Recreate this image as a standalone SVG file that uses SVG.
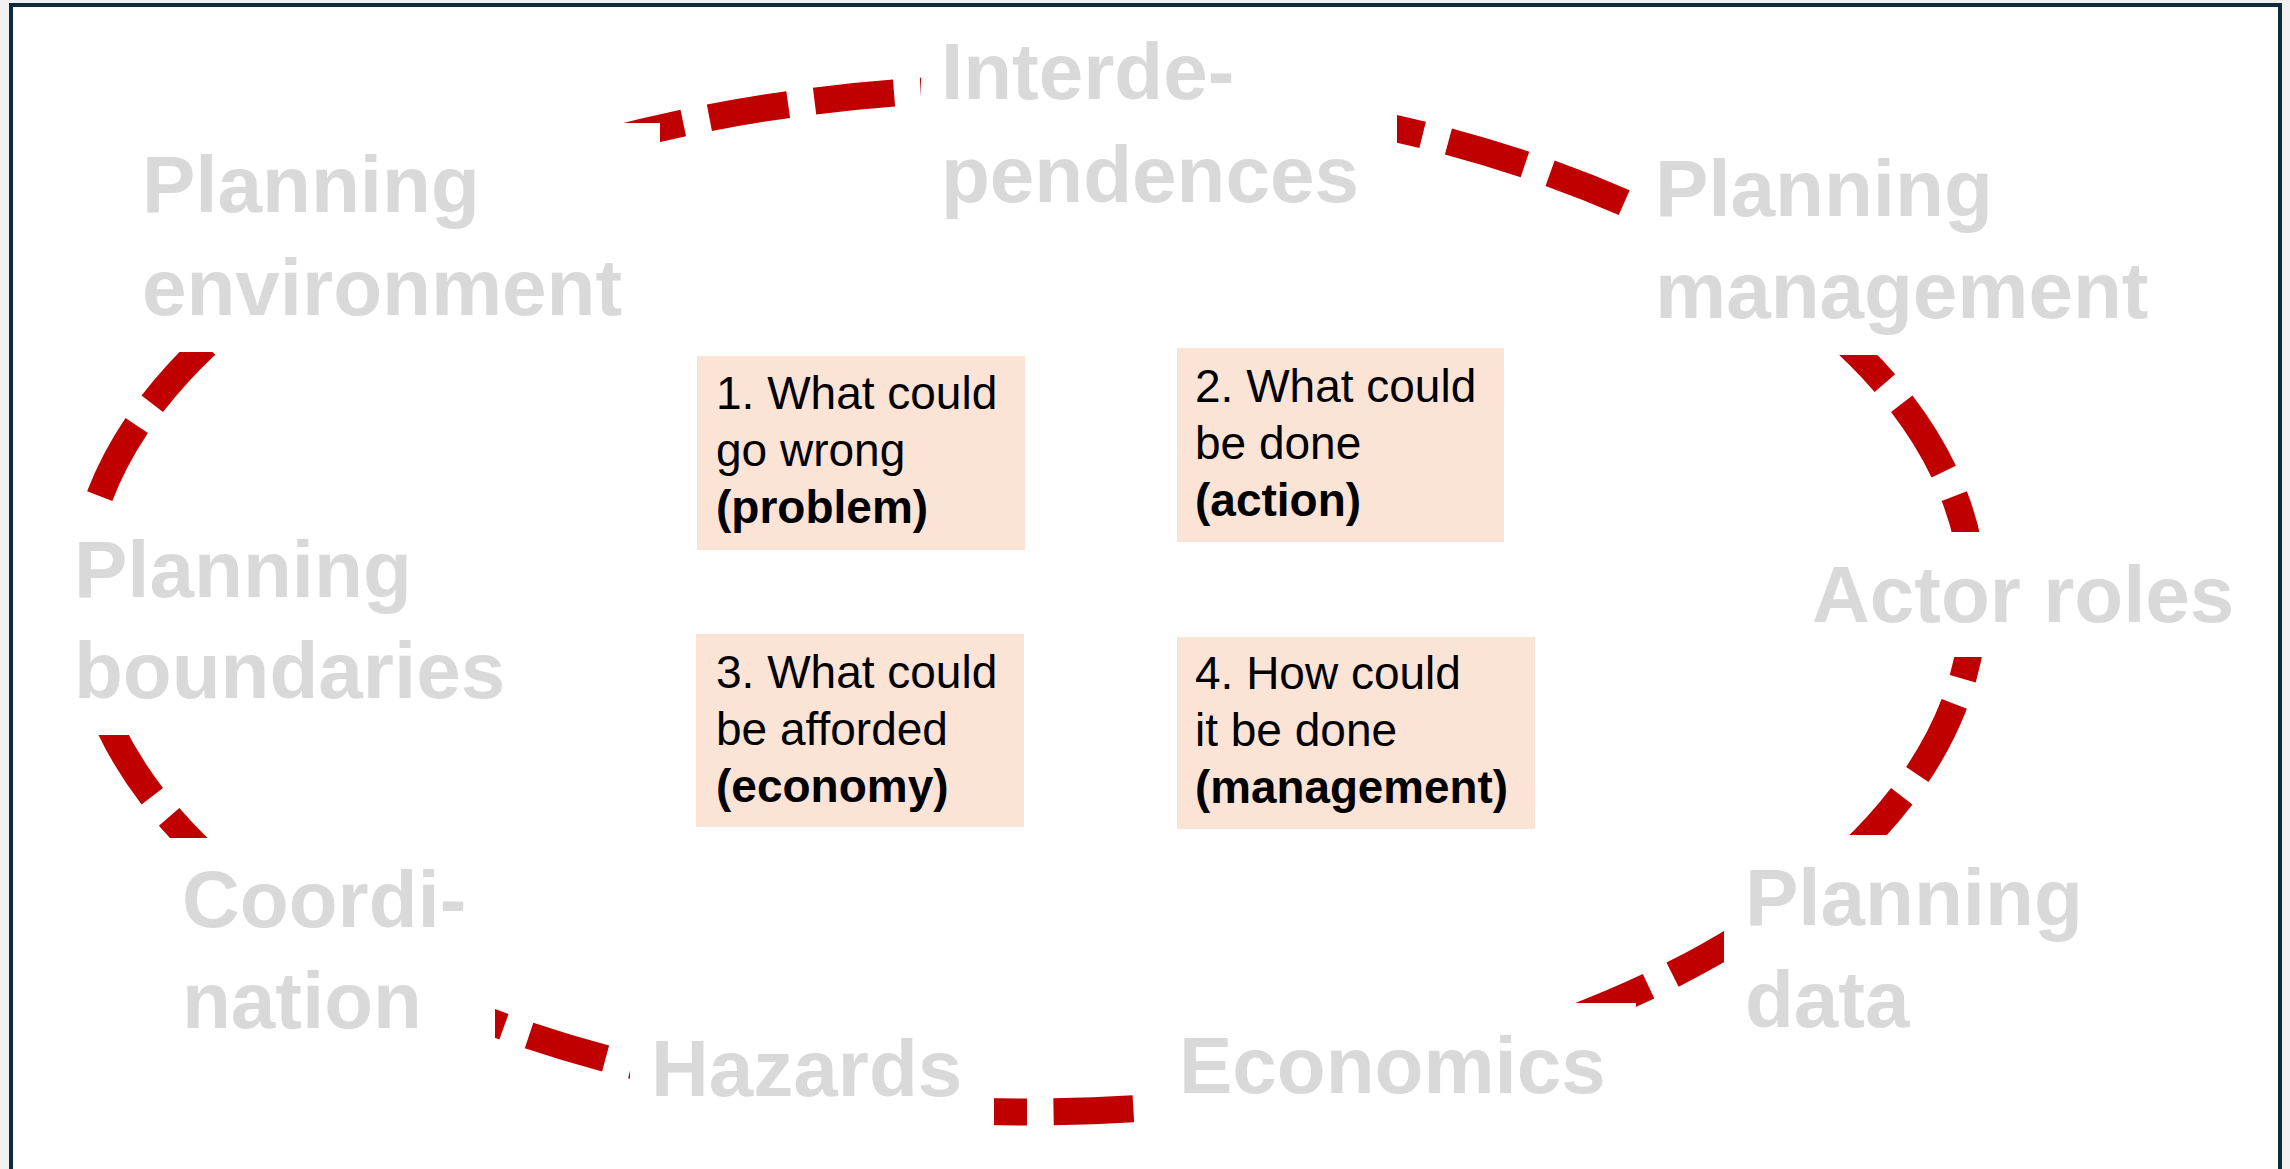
<svg xmlns="http://www.w3.org/2000/svg" width="2290" height="1169" viewBox="0 0 2290 1169">
  <defs>
    <style>
      .lbl { font-family: "Liberation Sans", Arial, sans-serif; font-weight: 700; font-size: 80px; fill: #d9d9d9; }
      .mask { fill: #ffffff; }
      .qbox { fill: #fbe3d6; }
      .qt { font-family: "Liberation Sans", Arial, sans-serif; font-size: 46px; fill: #000000; }
      .qb { font-weight: 700; }
      .ring { fill: none; stroke: #c00000; stroke-width: 27; stroke-dasharray: 7.5 2.5; stroke-linecap: butt; }
    </style>
  </defs>

  <!-- page background and frame -->
  <rect x="0" y="0" width="2290" height="1169" fill="#f0f0f0"/>
  <rect x="11" y="5" width="2269" height="1170" fill="#ffffff"/>
  <path d="M11 1169 V5 H2280 V1169" fill="none" stroke="#0e2a3b" stroke-width="4"/>

  <!-- dashed cycle -->
  <g id="connectors">
    <path class="ring" pathLength="440" d="M1974 600 A947 512 0 0 1 80 600 A947 512 0 0 1 1974 600 Z"/>
  </g>

  <!-- outer topic labels -->
  <g id="label-planning-environment">
    <rect class="mask" x="130" y="123" width="530" height="229"/>
    <text class="lbl" x="142" y="212">Planning</text>
    <text class="lbl" x="142" y="315">environment</text>
  </g>
  <g id="label-interdependences">
    <rect class="mask" x="921" y="15" width="476" height="217"/>
    <text class="lbl" x="941" y="99">Interde-</text>
    <text class="lbl" x="941" y="202">pendences</text>
  </g>
  <g id="label-planning-management">
    <rect class="mask" x="1640" y="130" width="570" height="225"/>
    <text class="lbl" x="1655" y="216">Planning</text>
    <text class="lbl" x="1655" y="318">management</text>
  </g>
  <g id="label-planning-boundaries">
    <rect class="mask" x="60" y="505" width="460" height="230"/>
    <text class="lbl" x="74" y="597">Planning</text>
    <text class="lbl" x="74" y="698">boundaries</text>
  </g>
  <g id="label-actor-roles">
    <rect class="mask" x="1800" y="532" width="462" height="125"/>
    <text class="lbl" x="1812" y="622">Actor roles</text>
  </g>
  <g id="label-coordination">
    <rect class="mask" x="120" y="838" width="375" height="222"/>
    <text class="lbl" x="182" y="927">Coordi-</text>
    <text class="lbl" x="182" y="1028">nation</text>
  </g>
  <g id="label-hazards">
    <rect class="mask" x="630" y="1000" width="364" height="160"/>
    <text class="lbl" x="651" y="1096">Hazards</text>
  </g>
  <g id="label-economics">
    <rect class="mask" x="1150" y="1003" width="486" height="160"/>
    <text class="lbl" x="1179" y="1093">Economics</text>
  </g>
  <g id="label-planning-data">
    <rect class="mask" x="1724" y="835" width="486" height="225"/>
    <text class="lbl" x="1745" y="925">Planning</text>
    <text class="lbl" x="1745" y="1027">data</text>
  </g>

  <!-- central question boxes -->
  <g id="q1">
    <rect class="qbox" x="697" y="356" width="328" height="194"/>
    <text class="qt" x="716" y="409">1. What could</text>
    <text class="qt" x="716" y="466">go wrong</text>
    <text class="qt qb" x="716" y="523">(problem)</text>
  </g>
  <g id="q2">
    <rect class="qbox" x="1177" y="348" width="327" height="194"/>
    <text class="qt" x="1195" y="402">2. What could</text>
    <text class="qt" x="1195" y="459">be done</text>
    <text class="qt qb" x="1195" y="516">(action)</text>
  </g>
  <g id="q3">
    <rect class="qbox" x="696" y="634" width="328" height="193"/>
    <text class="qt" x="716" y="688">3. What could</text>
    <text class="qt" x="716" y="745">be afforded</text>
    <text class="qt qb" x="716" y="802">(economy)</text>
  </g>
  <g id="q4">
    <rect class="qbox" x="1177" y="637" width="358" height="192"/>
    <text class="qt" x="1195" y="689">4. How could</text>
    <text class="qt" x="1195" y="746">it be done</text>
    <text class="qt qb" x="1195" y="803" textLength="313" lengthAdjust="spacingAndGlyphs">(management)</text>
  </g>
</svg>
